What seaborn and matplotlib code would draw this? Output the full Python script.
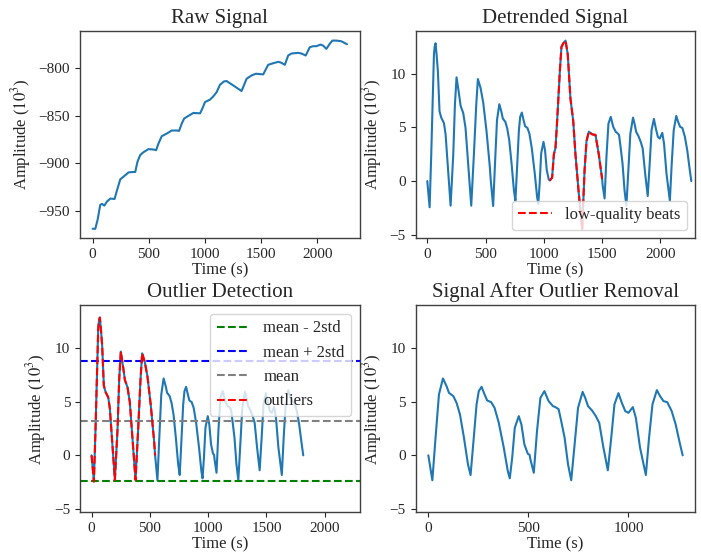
import numpy as np
import pandas as pd
import seaborn as sns
import matplotlib
matplotlib.use("Agg")
import matplotlib.pyplot as plt

# raw signal in 10^3 units
raw_time = [0, 24, 44, 68, 83, 104, 127, 157, 195, 222, 246, 275, 320, 358, 379,
            399, 423, 453, 497, 541, 565, 586, 615, 660, 704, 749, 769, 793, 814, 852,
            896, 956, 976, 1000, 1044, 1074, 1104, 1133, 1169, 1192, 1251, 1325, 1340,
            1370, 1414, 1453, 1518, 1533, 1562, 1607, 1651, 1675, 1710, 1740, 1769,
            1828, 1858, 1896, 1932, 1962, 1991, 2027, 2050, 2080, 2109, 2133, 2169,
            2213, 2263]
raw_amp = [-969.2, -969.2, -959.8, -944.0, -943.0, -944.8, -940.6, -937.4, -937.8,
           -926.6, -917.1, -914.3, -909.8, -909.4, -909.4, -898.6, -891.6, -888.5,
           -885.3, -885.7, -886.4, -879.4, -871.7, -868.9, -865.7, -865.7, -866.1,
           -858.4, -853.1, -850.3, -847.2, -847.6, -842.7, -835.7, -833.2, -829.7,
           -825.2, -817.5, -814.0, -813.6, -818.2, -824.1, -819.9, -811.2, -807.7,
           -805.9, -806.6, -803.1, -796.5, -794.8, -793.4, -794.1, -796.5, -786.7,
           -784.6, -783.9, -784.6, -786.7, -778.0, -776.9, -776.9, -775.2, -776.2,
           -779.7, -774.5, -771.0, -771.0, -771.7, -774.8]

# detrended signal
det_time = [0, 20, 34, 57, 63, 71, 80, 91, 105, 120, 143, 157, 177, 200,
            223, 237, 251, 271, 286, 308, 328, 377,
            400, 420, 434, 457, 480, 508, 537, 545,
            565, 581, 598, 618, 636, 648, 670, 686, 703, 723, 743, 756,
            772, 786, 797, 811, 826, 839, 859, 876, 897, 922, 942, 952,
            964, 977, 997, 1010, 1025, 1042, 1051,
            1071, 1086, 1100, 1114, 1137, 1151, 1171, 1186, 1205, 1228, 1252, 1271,
            1300, 1329, 1349, 1366, 1386, 1414, 1443, 1471, 1500,
            1504, 1521, 1537, 1554, 1574, 1595, 1617, 1629, 1645, 1658, 1675, 1692, 1708,
            1725, 1742, 1765, 1778, 1792, 1812, 1831, 1848, 1869, 1891,
            1908, 1924, 1944, 1961, 1978, 1994, 2016, 2031, 2052, 2081,
            2097, 2114, 2136, 2152, 2169, 2188, 2210, 2230, 2252, 2265]
det_amp = [0.0, -2.44, 2.5, 11.76, 12.5, 12.83, 11.76, 10.2, 6.5, 5.9, 5.4, 4.35, 1.26, -2.29,
           2.5, 7.1, 9.66, 8.2, 7.0, 6.35, 4.96, -2.29,
           2.5, 7.1, 9.5, 8.67, 7.3, 4.66, 1.26, 0.0,
           -2.32, 1.64, 5.67, 7.16, 6.44, 5.82, 5.51, 4.89, 3.81, 1.64, -0.84, -1.83,
           1.64, 4.74, 5.98, 6.38, 5.67, 5.11, 4.95, 4.42, 3.03, 0.71, -1.46, -2.14,
           -0.22, 2.57, 3.65, 2.88, 1.02, 0.15, 0.05,
           0.33, 2.5, 3.1, 5.6, 10.2, 12.5, 12.9, 13.08, 11.8, 7.7, 5.6, 2.5,
           -1.2, -4.44, 0.95, 3.73, 4.6, 4.35, 4.3, 2.5, 0.2,
           -0.37, -1.62, 2.26, 5.35, 5.98, 5.05, 4.58, 4.49, 4.3, 3.19, 1.64, -0.84, -2.32,
           1.02, 4.42, 5.91, 5.35, 4.58, 4.18, 3.65, 3.03, 0.71, -1.39,
           1.64, 4.74, 5.79, 4.89, 4.12, 3.96, 4.49, 3.49, 0.71, -1.83,
           1.64, 4.74, 6.07, 5.51, 5.05, 4.95, 4.12, 2.88, 1.02, 0.0]

lowq_start, lowq_end = 1051, 1500   # low-quality beats
outlier_end = 545                  # first three beats flagged
mean_val = 3.23
std_val = 2.8

det = pd.DataFrame({"t": det_time, "amp": det_amp})
lowq = det[(det.t >= lowq_start) & (det.t <= lowq_end)]

# signal with low-quality beats cut out
kept = pd.concat([det[det.t <= lowq_start],
                  det[det.t > lowq_end].assign(t=lambda d: d.t - (lowq_end - lowq_start))])
outl = kept[kept.t <= outlier_end]
clean = kept[kept.t >= outlier_end].assign(t=lambda d: d.t - outlier_end)

sns.set_style("ticks", {"axes.edgecolor": "0.25", "xtick.color": "0.15", "ytick.color": "0.15"})
plt.rcParams["font.family"] = ["Liberation Serif", "DejaVu Serif"]
plt.rcParams["mathtext.fontset"] = "stix"
plt.rcParams["axes.titlesize"] = 15
plt.rcParams["axes.labelsize"] = 12
plt.rcParams["xtick.labelsize"] = 11
plt.rcParams["ytick.labelsize"] = 11
plt.rcParams["legend.fontsize"] = 12
plt.rcParams["axes.linewidth"] = 1.0

blue = "#1f77b4"
ylab = r"Amplitude ($10^3$)"

fig, axes = plt.subplots(2, 2, figsize=(7.01, 5.57), dpi=100)
fig.subplots_adjust(left=0.114, right=0.992, top=0.944, bottom=0.08, wspace=0.2, hspace=0.325)
ax1, ax2, ax3, ax4 = axes.flat

sns.lineplot(x=raw_time, y=raw_amp, ax=ax1, color=blue, linewidth=1.5)
ax1.set_title("Raw Signal")

sns.lineplot(data=det, x="t", y="amp", ax=ax2, color=blue, linewidth=1.5)
sns.lineplot(data=lowq, x="t", y="amp", ax=ax2, color="red", linestyle="--",
             linewidth=1.5, label="low-quality beats")
ax2.legend(loc="lower right")
ax2.set_title("Detrended Signal")

sns.lineplot(data=kept, x="t", y="amp", ax=ax3, color=blue, linewidth=1.5, sort=False)
ax3.axhline(mean_val - 2 * std_val, color="green", linestyle="--", label="mean - 2std")
ax3.axhline(mean_val + 2 * std_val, color="blue", linestyle="--", label="mean + 2std")
ax3.axhline(mean_val, color="gray", linestyle="--", label="mean")
sns.lineplot(data=outl, x="t", y="amp", ax=ax3, color="red", linestyle="--",
             linewidth=1.5, label="outliers")
ax3.legend(loc="upper right")
ax3.set_title("Outlier Detection")

sns.lineplot(data=clean, x="t", y="amp", ax=ax4, color=blue, linewidth=1.5)
ax4.set_xticks([0, 500, 1000])
ax4.set_title("Signal After Outlier Removal")

for ax in (ax2, ax3):
    ax.set_xlim(-100, 2300)
    ax.set_xticks([0, 500, 1000, 1500, 2000])
ylim = ax2.get_ylim()
for ax in (ax3, ax4):
    ax.set_ylim(ylim)

for ax in axes.flat:
    ax.set_xlabel("Time (s)", labelpad=1)
    ax.set_ylabel(ylab)

fig.savefig("out.png", dpi=100)
